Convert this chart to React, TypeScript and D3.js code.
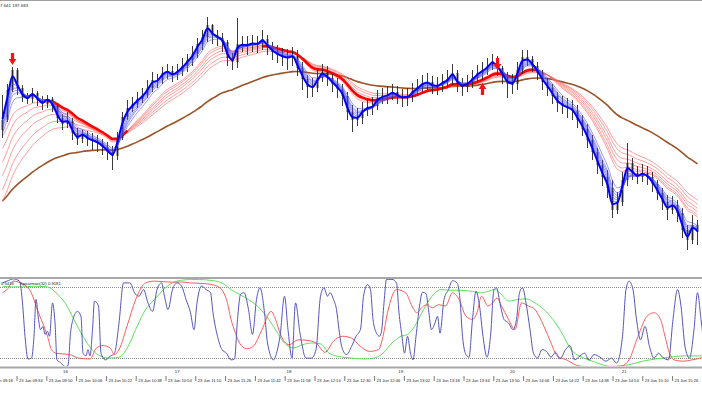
import React from "react";
import * as d3 from "d3";

// ---------- price data (one bar each) ----------
const firstOpen = 197.44;
const closePrices = [
  197.460,197.520,197.560,197.524,197.506,197.502,197.514,197.500,197.492,197.502,
  197.488,197.464,197.452,197.458,197.434,197.422,197.432,197.422,197.418,197.414,
  197.406,197.396,197.388,197.424,197.466,197.484,197.492,197.502,197.510,197.524,
  197.540,197.540,197.554,197.558,197.550,197.558,197.568,197.580,197.592,197.612,
  197.626,197.650,197.630,197.624,197.616,197.584,197.576,197.612,197.612,197.610,
  197.614,197.612,197.622,197.606,197.596,197.590,197.586,197.584,197.588,197.564,
  197.542,197.526,197.524,197.544,197.556,197.544,197.532,197.522,197.508,197.476,
  197.460,197.464,197.480,197.486,197.488,197.504,197.508,197.510,197.516,197.508,
  197.504,197.506,197.518,197.526,197.534,197.536,197.528,197.528,197.536,197.542,
  197.554,197.532,197.526,197.534,197.544,197.554,197.560,197.568,197.578,197.564,
  197.548,197.532,197.532,197.560,197.586,197.582,197.568,197.554,197.536,197.524,
  197.508,197.494,197.488,197.484,197.478,197.460,197.442,197.420,197.396,197.370,
  197.346,197.324,197.280,197.296,197.340,197.374,197.354,197.346,197.354,197.346,
  197.332,197.314,197.296,197.280,197.290,197.274,197.240,197.220,197.250,197.236,
];
const highPrices = [
  197.510,197.532,197.566,197.564,197.530,197.514,197.524,197.518,197.508,197.510,
  197.506,197.494,197.472,197.476,197.464,197.444,197.440,197.438,197.434,197.430,
  197.422,197.416,197.408,197.436,197.476,197.500,197.506,197.516,197.524,197.540,
  197.556,197.552,197.566,197.572,197.568,197.572,197.584,197.592,197.608,197.624,
  197.640,197.666,197.652,197.640,197.634,197.620,197.594,197.664,197.628,197.628,
  197.630,197.628,197.640,197.630,197.616,197.610,197.604,197.602,197.606,197.600,
  197.576,197.550,197.544,197.560,197.572,197.568,197.552,197.544,197.532,197.516,
  197.490,197.484,197.496,197.504,197.506,197.520,197.524,197.528,197.532,197.528,
  197.522,197.524,197.534,197.542,197.550,197.554,197.548,197.546,197.552,197.560,
  197.572,197.560,197.544,197.550,197.560,197.570,197.576,197.584,197.592,197.588,
  197.568,197.556,197.552,197.576,197.600,197.600,197.588,197.576,197.560,197.544,
  197.532,197.516,197.508,197.504,197.500,197.490,197.470,197.452,197.430,197.404,
  197.380,197.360,197.340,197.316,197.356,197.414,197.384,197.368,197.372,197.368,
  197.356,197.340,197.324,197.310,197.308,197.300,197.284,197.250,197.270,197.260,
];
const lowPrices = [
  197.424,197.456,197.516,197.510,197.496,197.492,197.494,197.488,197.480,197.484,
  197.476,197.454,197.440,197.444,197.420,197.410,197.414,197.408,197.400,197.396,
  197.390,197.380,197.360,197.380,197.420,197.460,197.476,197.484,197.494,197.504,
  197.516,197.524,197.532,197.542,197.536,197.540,197.548,197.556,197.568,197.584,
  197.600,197.616,197.612,197.608,197.596,197.568,197.560,197.564,197.596,197.590,
  197.596,197.594,197.600,197.590,197.580,197.574,197.568,197.560,197.568,197.548,
  197.520,197.504,197.506,197.516,197.536,197.528,197.516,197.504,197.488,197.460,
  197.436,197.448,197.452,197.468,197.470,197.480,197.492,197.492,197.500,197.492,
  197.486,197.488,197.496,197.508,197.516,197.520,197.512,197.510,197.516,197.524,
  197.530,197.516,197.508,197.516,197.524,197.536,197.540,197.550,197.560,197.548,
  197.532,197.504,197.512,197.520,197.552,197.568,197.556,197.540,197.520,197.508,
  197.492,197.476,197.472,197.464,197.460,197.444,197.428,197.404,197.380,197.352,
  197.328,197.304,197.264,197.272,197.288,197.328,197.340,197.332,197.336,197.330,
  197.316,197.300,197.280,197.260,197.272,197.256,197.224,197.200,197.212,197.210,
];

// ---------- moving averages (periods in bars, starting values) ----------
const fastPeriods = [2, 2.5, 3, 3.5, 4, 5];
const fastSeeds = [197.464, 197.456, 197.448, 197.440, 197.432, 197.420];
const mainFastPeriod = 1.6;
const mainFastSeed = 197.468;
const slowPeriods = [9, 10, 11.5, 13, 15, 17];
const slowSeeds = [197.42, 197.39, 197.36, 197.33, 197.30, 197.276];
const mainSlowPeriod = 11;
const mainSlowSeed = 197.46;
const mainSlowSpans = [[9, 25], [52, 107]];
const trendPeriod = 40;
const trendSeed = 197.29;

// ---------- signal arrows ----------
const sellSignals = [{ bar: 2, price: 197.57 }, { bar: 99, price: 197.56 }];
const buySignals = [{ bar: 96, price: 197.534 }];

// ---------- oscillator [bar, value] ----------
const spearmanFast: [number, number][] = [
  [0,0.89],[0.9,0.93],[2.2,0.98],[3.4,0.93],[4.0,0.44],[4.5,-0.31],[5.1,-0.82],[5.8,-0.80],[6.3,-0.31],[6.7,0.52],
  [7.2,0.07],[7.6,-0.16],[8.1,-0.09],[8.5,-0.27],[9.0,-0.20],[9.4,-0.31],[10.0,0.44],[10.5,-0.01],[10.9,-0.84],[11.6,-0.90],
  [12.5,-0.99],[13.1,-0.97],[13.6,-0.24],[14.1,0.07],[15.0,0.25],[15.7,0.14],[16.1,-0.69],[16.7,-0.75],[17.1,-0.61],[17.5,-0.75],
  [18.0,-0.16],[18.4,0.48],[19.2,0.37],[19.7,-0.69],[20.6,-0.84],[21.5,-0.76],[22.4,-0.69],[23.3,-0.01],[24.2,0.89],[25.5,0.89],
  [26.4,0.67],[27.3,0.59],[28.2,0.74],[29.1,0.44],[30.0,0.25],[30.9,0.74],[31.8,0.89],[32.4,0.59],[33.1,0.29],[34.0,0.74],
  [34.9,0.89],[35.8,0.82],[36.7,0.52],[37.6,0.22],[38.3,-0.16],[38.9,0.44],[39.8,0.82],[40.7,0.74],[41.6,0.67],[42.1,0.22],
  [43.0,-0.31],[43.9,-0.61],[44.8,-0.69],[45.7,-0.84],[46.4,-0.82],[47.0,0.07],[47.6,0.63],[48.3,0.67],[49.2,0.29],[50.0,-0.27],
  [50.8,0.52],[51.5,0.78],[52.4,0.22],[53.0,-0.46],[54.2,-0.84],[54.8,-0.69],[55.5,-0.31],[56.4,0.59],[57.1,-0.16],[57.9,-0.80],
  [58.6,0.44],[59.5,-0.24],[60.7,-0.80],[61.8,-0.80],[62.7,-0.61],[63.6,0.59],[64.3,0.78],[65.0,0.59],[65.5,0.67],[66.2,0.52],
  [66.8,0.29],[67.3,-0.16],[67.9,-0.57],[68.8,-0.72],[69.8,-0.54],[70.7,-0.31],[71.6,-0.15],[72.2,0.59],[73.0,0.85],[73.6,0.74],
  [74.1,0.07],[74.8,-0.24],[75.4,-0.31],[75.8,-0.20],[76.3,0.44],[76.8,0.97],[77.9,0.97],[78.8,0.89],[79.3,0.22],[79.9,-0.31],
  [80.4,-0.69],[81.0,-0.31],[81.6,-0.69],[82.1,-0.84],[82.7,-0.31],[83.4,0.37],[84.0,0.68],[84.7,0.65],[85.2,0.29],[85.8,-0.16],
  [86.5,-0.01],[87.0,0.14],[87.5,-0.24],[88.3,0.52],[89.2,0.74],[90.0,0.94],[90.9,0.89],[91.5,0.52],[92.0,-0.31],[92.7,-0.72],
  [93.3,-0.78],[94.0,0.07],[94.7,0.70],[95.4,0.37],[96.1,-0.31],[96.9,-0.78],[97.6,-0.31],[98.3,0.74],[98.8,0.78],[99.6,0.37],
  [100.3,0.07],[101.2,-0.01],[102.1,-0.16],[102.8,0.07],[103.4,0.67],[104.0,0.78],[104.7,0.44],[105.5,-0.16],[106.2,-0.69],[107.0,-0.80],
  [107.9,-0.61],[108.8,-0.65],[109.7,-0.78],[110.6,-0.67],[111.5,-0.82],[112.6,-0.61],[113.5,-0.52],[114.4,-0.84],[115.5,-0.75],[116.4,-0.69],
  [117.3,-0.85],[118.3,-0.72],[119.5,-0.78],[120.7,-0.87],[121.8,-0.80],[122.8,-0.91],[124.0,-0.31],[124.7,0.74],[125.3,0.93],[126.1,0.74],
  [126.8,0.07],[127.6,-0.39],[128.5,-0.09],[129.4,-0.54],[130.3,-0.80],[131.2,-0.69],[132.0,-0.78],[133.2,-0.84],[134.1,0.07],[135.0,0.74],
  [135.7,0.37],[136.5,-0.54],[137.4,-0.80],[138.3,-0.16],[139.0,0.67],[139.7,0.07],[140.4,-0.61],
];
const spearmanMid: [number, number][] = [
  [0,0.67],[0.9,0.74],[2.2,0.93],[3.6,0.89],[5.4,0.74],[7.2,0.22],[9.0,-0.31],[9.8,-0.61],[10.7,-0.69],[13.4,-0.72],
  [15.2,-0.80],[17.5,-0.82],[18.8,-0.57],[20.1,-0.52],[21.5,-0.57],[22.4,-0.72],[23.3,-0.61],[25.1,-0.01],[26.9,0.59],[28.6,0.89],
  [30.4,0.93],[34.0,0.905],[35.8,0.91],[37.6,0.89],[40.3,0.875],[43.0,0.815],[44.8,0.515],[45.7,0.07],[46.6,-0.24],[47.4,-0.46],
  [48.8,-0.59],[50.1,-0.54],[51.9,-0.16],[53.7,0.25],[54.6,0.07],[55.5,-0.24],[57.3,-0.50],[59.1,-0.39],[60.9,-0.40],[62.7,-0.46],
  [64.5,-0.67],[66.2,-0.42],[68.0,-0.31],[69.8,-0.35],[71.6,-0.54],[73.4,-0.65],[75.2,-0.61],[76.1,-0.31],[77.0,0.22],[78.8,0.74],
  [80.6,0.67],[81.9,0.37],[82.8,0.22],[84.2,0.37],[85.0,0.40],[85.9,0.33],[87.3,0.40],[88.6,0.37],[90.0,0.67],[91.3,0.52],
  [92.7,0.14],[94.0,0.07],[94.9,0.22],[95.8,0.59],[97.1,0.37],[98.0,0.44],[98.9,0.55],[99.8,0.37],[101.2,0.07],[102.5,-0.16],
  [103.8,0.44],[105.2,0.37],[106.5,0.29],[108.3,-0.09],[109.7,-0.46],[111.0,-0.76],[112.8,-0.84],[114.6,-0.95],[116.4,-0.99],[120.9,-0.99],
  [123.5,-0.99],[125.3,-0.84],[127.1,-0.31],[128.9,0.14],[130.3,0.22],[131.6,0.07],[132.5,-0.31],[133.4,-0.69],[134.3,-0.84],[136.1,-0.87],
  [137.9,-0.84],[140.4,-0.78],
];
const spearmanSlow: [number, number][] = [
  [0,0.815],[1.8,0.80],[3.6,0.80],[6.3,0.815],[9.0,0.80],[10.7,0.665],[12.5,0.44],[14.3,0.065],[16.1,-0.31],[17.9,-0.61],
  [19.7,-0.76],[21.5,-0.80],[23.3,-0.78],[25.1,-0.54],[26.9,-0.09],[28.6,0.29],[30.4,0.515],[32.2,0.74],[34.0,0.89],[35.8,0.95],
  [37.6,0.965],[39.4,0.965],[42.1,0.94],[43.9,0.89],[45.7,0.74],[47.4,0.63],[49.2,0.515],[51.0,0.365],[52.8,0.14],[54.6,-0.16],
  [56.4,-0.46],[58.2,-0.57],[60.0,-0.50],[61.8,-0.46],[63.6,-0.48],[65.3,-0.69],[67.1,-0.76],[69.8,-0.80],[72.5,-0.82],[74.3,-0.80],
  [76.1,-0.69],[77.9,-0.46],[79.7,-0.31],[81.0,-0.27],[82.4,-0.09],[84.2,0.29],[85.9,0.59],[87.7,0.74],[89.5,0.725],[91.3,0.725],
  [94.0,0.70],[95.8,0.665],[97.1,0.70],[98.5,0.74],[99.8,0.63],[101.2,0.48],[103.0,0.515],[104.7,0.53],[106.5,0.44],[108.3,0.29],
  [110.1,0.065],[111.9,-0.24],[113.7,-0.61],[115.5,-0.76],[117.3,-0.84],[120.0,-0.95],[121.8,-0.99],[123.5,-0.97],[125.3,-0.95],[128.0,-0.87],
  [130.7,-0.82],[133.4,-0.78],[136.1,-0.75],[140.4,-0.75],
];
const oscLevels = [0.8, -0.8];

// ---------- axis text ----------
const dayLabel = "23 Jun";
const timeTicks = ["09:18","09:34","09:50","10:06","10:22","10:38","10:54","11:10","11:26","11:42","11:58","12:14",
  "12:30","12:46","13:02","13:18","13:34","13:50","14:06","14:22","14:38","14:54","15:10","15:26"];
const hourMarks = ["10:00","11:00","12:00","13:00","14:00","15:00"];
const hourLabels = ["16","17","18","19","20","21"];
const headerText = "7.641 197.683";
const oscValueText = "0.5416";
const oscTitle = "Spearman(32) 0.9181";

function ema(values: number[], period: number, seed: number) {
  const a = 2 / (period + 1);
  let e = seed;
  return values.map((v) => (e = e + a * (v - e)));
}
const toDate = (s: string) => {
  const [h, m] = s.split(":").map(Number);
  return new Date(2023, 5, 23, h, m);
};

export default function App() {
  const n = closePrices.length;
  const x = d3.scaleLinear().domain([0, n - 1]).range([2.5, 2.5 + 5 * (n - 1)]);
  const y = d3.scaleLinear().domain([197.164, 197.7]).range([268, 0]);
  const yo = d3.scaleLinear().domain([-1, 1]).range([367, 278]);
  const xt = d3.scaleTime().domain([toDate("09:34"), toDate("15:26")]).range([17, 672.6]);

  const bars = closePrices.map((c, i) => {
    const o = i === 0 ? firstOpen : closePrices[i - 1];
    const h = Math.max(highPrices[i], o, c);
    const l = Math.min(lowPrices[i], o, c);
    return { i, o, c, h, l };
  });

  const lineMA = d3.line<number>().x((_, i) => x(i)).y((v) => y(v)).curve(d3.curveMonotoneX);
  const fast = fastPeriods.map((p, k) => ema(closePrices, p, fastSeeds[k]));
  const mainFast = ema(closePrices, mainFastPeriod, mainFastSeed);
  const slow = slowPeriods.map((p, k) => ema(closePrices, p, slowSeeds[k]));
  const mainSlow = ema(closePrices, mainSlowPeriod, mainSlowSeed);
  const trend = ema(closePrices, trendPeriod, trendSeed);
  const inSpan = (i: number) => mainSlowSpans.some(([a, b]) => i >= a && i <= b);
  const lineSpan = d3.line<number>().defined((_, i) => inSpan(i)).x((_, i) => x(i)).y((v) => y(v)).curve(d3.curveMonotoneX);

  const oscLine = d3.line<[number, number]>().x((d) => x(d[0])).y((d) => yo(d[1])).curve(d3.curveMonotoneX);

  const downArrow = (cx: number, ty: number) =>
    `M${cx - 1.6},${ty - 12}L${cx + 1.6},${ty - 12}L${cx + 1.6},${ty - 6}L${cx + 3.8},${ty - 6}L${cx},${ty}L${cx - 3.8},${ty - 6}L${cx - 1.6},${ty - 6}Z`;
  const upArrow = (cx: number, ty: number) =>
    `M${cx - 1.6},${ty + 12}L${cx + 1.6},${ty + 12}L${cx + 1.6},${ty + 6}L${cx + 3.8},${ty + 6}L${cx},${ty}L${cx - 3.8},${ty + 6}L${cx - 1.6},${ty + 6}Z`;

  const font = "'Liberation Sans', Arial, sans-serif";

  return (
    <svg width={702} height={395} style={{ position: "fixed", left: 0, top: 0, background: "#fff" }}
      fontFamily={font}>
      <defs>
        <clipPath id="mainClip"><rect x={0} y={1} width={702} height={275} /></clipPath>
        <clipPath id="oscClip"><rect x={0} y={279} width={702} height={87} /></clipPath>
      </defs>
      <rect x={0} y={0} width={702} height={395} fill="#fff" />
      <line x1={0} x2={702} y1={0.5} y2={0.5} stroke="#a0a0a0" />
      <text x={0} y={7} fontSize={4.4} fill="#222">{headerText}</text>

      <g clipPath="url(#mainClip)">
        <path d={lineMA(trend) || ""} fill="none" stroke="#9a5326" strokeWidth={1.6} />
        {slow.map((s, k) => (
          <path key={"s" + k} d={lineMA(s) || ""} fill="none" stroke="#ff6464" strokeWidth={0.8} opacity={0.8} />
        ))}
        <path d={lineSpan(mainSlow) || ""} fill="none" stroke="#ff0000" strokeWidth={2.6} />
        {bars.map((b) => {
          const top = y(Math.max(b.o, b.c));
          const bot = y(Math.min(b.o, b.c));
          return (
            <g key={b.i}>
              <line x1={x(b.i)} x2={x(b.i)} y1={y(b.h)} y2={y(b.l)} stroke="#262626" strokeWidth={0.9} />
              <rect x={x(b.i) - 0.9} y={top} width={1.8} height={Math.max(1, bot - top)} fill="#262626" />
            </g>
          );
        })}
        {fast.map((s, k) => (
          <path key={"f" + k} d={lineMA(s) || ""} fill="none" stroke="#5050ff" strokeWidth={0.8} opacity={0.75} />
        ))}
        <path d={lineMA(mainFast) || ""} fill="none" stroke="#0000ff" strokeWidth={2} />
        {sellSignals.map((s, k) => (
          <path key={"d" + k} d={downArrow(x(s.bar), y(s.price))} fill="#ff1010" />
        ))}
        {buySignals.map((s, k) => (
          <path key={"u" + k} d={upArrow(x(s.bar), y(s.price))} fill="#ff1010" />
        ))}
      </g>

      {/* oscillator panel */}
      <rect x={0} y={277} width={702} height={2} fill="#a8a8a8" />
      <rect x={0} y={366.5} width={702} height={2} fill="#a8a8a8" />
      {oscLevels.map((v) => (
        <line key={v} x1={0} x2={702} y1={Math.round(yo(v)) + 0.5} y2={Math.round(yo(v)) + 0.5}
          stroke="#8a8a8a" strokeWidth={1} strokeDasharray="1,1" />
      ))}
      <g clipPath="url(#oscClip)">
        <path d={oscLine(spearmanSlow) || ""} fill="none" stroke="#5fe05f" strokeWidth={1} />
        <path d={oscLine(spearmanMid) || ""} fill="none" stroke="#ff5c5c" strokeWidth={1} />
        <path d={oscLine(spearmanFast) || ""} fill="none" stroke="#5555bb" strokeWidth={1} />
      </g>
      <text x={1} y={284.5} fontSize={4.2} fill="#222">{oscValueText}</text>
      <text x={20} y={284.5} fontSize={4.2} fill="#222">{oscTitle}</text>

      {/* hour marks */}
      {hourMarks.map((h, k) => (
        <text key={h} x={xt(toDate(h))} y={373} fontSize={4.3} fill="#222" textAnchor="middle">{hourLabels[k]}</text>
      ))}
      {/* time axis */}
      {timeTicks.map((t) => {
        const px = xt(toDate(t));
        return (
          <g key={t}>
            <line x1={px} x2={px} y1={376} y2={381} stroke="#555" strokeWidth={0.8} />
            <text x={px + 2} y={381.8} fontSize={4.1} fill="#222">{`${dayLabel} ${t}`}</text>
          </g>
        );
      })}
    </svg>
  );
}
